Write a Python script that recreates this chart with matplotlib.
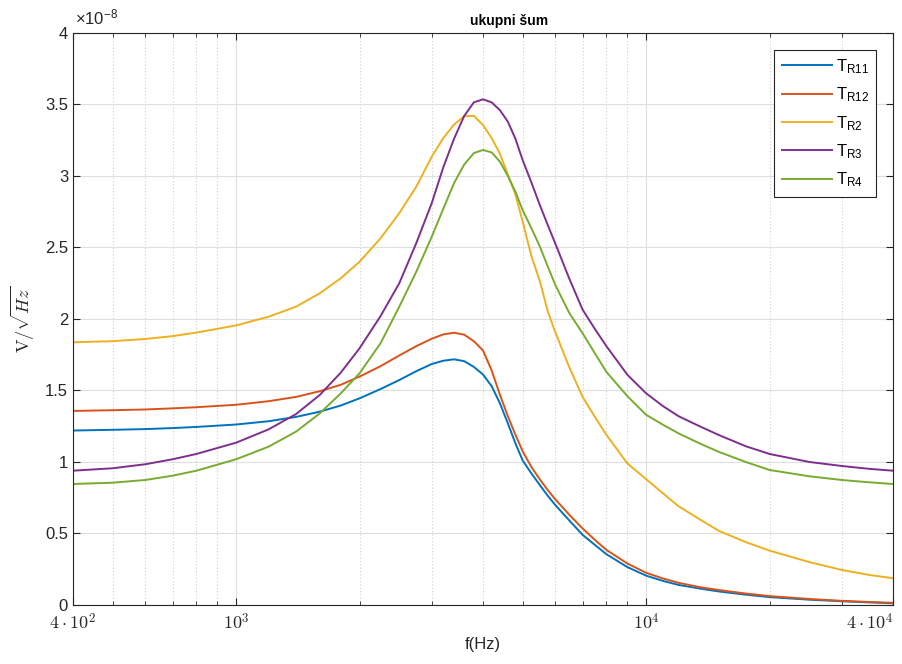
# ukupni sum - total noise vs frequency

import matplotlib
matplotlib.use('Agg')
import matplotlib.pyplot as plt
import matplotlib.transforms as mtransforms
from matplotlib.ticker import FixedLocator, FuncFormatter, NullFormatter

plt.rcParams['font.family'] = ['Liberation Sans', 'DejaVu Sans']
plt.rcParams['mathtext.fontset'] = 'custom'
plt.rcParams['mathtext.rm'] = 'Liberation Sans'
plt.rcParams['mathtext.it'] = 'Liberation Sans:italic'
plt.rcParams['mathtext.bf'] = 'Liberation Sans:bold'

# frequency (Hz)
freq = [400, 500, 600, 700, 800, 1000, 1200, 1400, 1600, 1800, 2000, 2250,
        2500, 2750, 3000, 3200, 3400, 3600, 3800, 4000, 4200, 4400, 4600,
        4800, 5000, 5250, 5500, 5750, 6000, 6500, 7000, 7500, 8000, 9000,
        10000, 11000, 12000, 13500, 15000, 17500, 20000, 25000, 30000,
        35000, 40000]

# noise in units of 1e-8 V/sqrt(Hz)
t_r11 = [1.220, 1.225, 1.230, 1.237, 1.245, 1.262, 1.285, 1.315, 1.352, 1.395,
         1.445, 1.510, 1.573, 1.635, 1.685, 1.708, 1.718, 1.705, 1.665, 1.612,
         1.530, 1.410, 1.270, 1.130, 1.010, 0.920, 0.840, 0.765, 0.700, 0.590,
         0.490, 0.420, 0.355, 0.265, 0.205, 0.168, 0.140, 0.115, 0.095, 0.072,
         0.055, 0.037, 0.026, 0.018, 0.012]
t_r12 = [1.357, 1.362, 1.367, 1.375, 1.383, 1.400, 1.425, 1.455, 1.495, 1.540,
         1.597, 1.670, 1.745, 1.810, 1.862, 1.892, 1.904, 1.890, 1.845, 1.780,
         1.640, 1.470, 1.320, 1.190, 1.075, 0.965, 0.880, 0.805, 0.740, 0.630,
         0.535, 0.455, 0.385, 0.290, 0.225, 0.185, 0.155, 0.125, 0.105, 0.080,
         0.062, 0.042, 0.029, 0.021, 0.015]
t_r2 = [1.837, 1.845, 1.860, 1.880, 1.905, 1.955, 2.016, 2.086, 2.180, 2.285,
        2.400, 2.564, 2.740, 2.925, 3.135, 3.265, 3.360, 3.418, 3.420, 3.357,
        3.265, 3.155, 3.010, 2.870, 2.680, 2.440, 2.270, 2.057, 1.910, 1.660,
        1.455, 1.315, 1.190, 0.990, 0.880, 0.780, 0.690, 0.600, 0.520, 0.440,
        0.380, 0.300, 0.245, 0.210, 0.187]
t_r3 = [0.939, 0.956, 0.984, 1.019, 1.056, 1.135, 1.228, 1.335, 1.469, 1.625,
        1.795, 2.020, 2.250, 2.530, 2.810, 3.060, 3.260, 3.420, 3.515, 3.536,
        3.515, 3.460, 3.380, 3.260, 3.110, 2.955, 2.800, 2.660, 2.530, 2.280,
        2.065, 1.930, 1.810, 1.610, 1.480, 1.390, 1.320, 1.250, 1.190, 1.110,
        1.056, 1.000, 0.972, 0.952, 0.939]
t_r4 = [0.846, 0.855, 0.874, 0.904, 0.939, 1.019, 1.107, 1.212, 1.340, 1.480,
        1.620, 1.830, 2.086, 2.330, 2.575, 2.770, 2.950, 3.080, 3.160, 3.182,
        3.165, 3.100, 3.000, 2.890, 2.760, 2.635, 2.510, 2.370, 2.240, 2.040,
        1.900, 1.760, 1.630, 1.460, 1.330, 1.260, 1.200, 1.130, 1.072, 1.000,
        0.944, 0.900, 0.874, 0.858, 0.846]

series = [t_r11, t_r12, t_r2, t_r3, t_r4]
labels = ['T$_{\\mathregular{R11}}$', 'T$_{\\mathregular{R12}}$',
          'T$_{\\mathregular{R2}}$', 'T$_{\\mathregular{R3}}$',
          'T$_{\\mathregular{R4}}$']
colors = ['#0072BD', '#D95319', '#EDB120', '#7E2F8E', '#77AC30']

x_major = [400, 1000, 10000, 40000]
x_major_labels = [r'$4\cdot10^{2}$', r'$10^{3}$', r'$10^{4}$', r'$4\cdot10^{4}$']
x_minor = [500, 600, 700, 800, 900, 2000, 3000, 4000, 5000, 6000, 7000,
           8000, 9000, 20000, 30000]
y_ticks = [0, 0.5, 1, 1.5, 2, 2.5, 3, 3.5, 4]

axcol = '#262626'

fig = plt.figure(figsize=(9.03, 6.64), dpi=100)
ax = fig.add_axes([0.0808, 0.0889, 0.9081, 0.8614])

for y, lab, c in zip(series, labels, colors):
    ax.plot(freq, y, color=c, lw=1.4, label=lab)

ax.set_xscale('log')
ax.set_xlim(400, 40000)
ax.set_ylim(0, 4)

ax.xaxis.set_major_locator(FixedLocator(x_major))
ax.xaxis.set_minor_locator(FixedLocator(x_minor))
ax.xaxis.set_minor_formatter(NullFormatter())
ax.set_xticklabels(x_major_labels, math_fontfamily='cm', fontsize=13)
ax.set_yticks(y_ticks)
ax.yaxis.set_major_formatter(FuncFormatter(lambda v, p: '%g' % v))

# last label pushed against the right figure edge, like MATLAB does
last = ax.get_xticklabels()[-1]
last.set_horizontalalignment('right')
last.set_transform(last.get_transform() +
                   mtransforms.ScaledTranslation(0.095, 0, fig.dpi_scale_trans))

ax.grid(which='major', color='#dedede', lw=0.8)
ax.grid(which='minor', axis='x', color='#cfcfcf', ls=(0, (1, 2)), lw=0.8)
ax.set_axisbelow(True)

ax.tick_params(which='both', direction='in', top=True, right=True,
               colors=axcol, labelcolor=axcol)
ax.tick_params(which='major', length=5, width=0.8)
ax.tick_params(which='minor', length=3, width=0.6)
ax.tick_params(axis='y', labelsize=12)
ax.tick_params(axis='x', pad=6)
for s in ax.spines.values():
    s.set_color(axcol)
    s.set_linewidth(0.8)

ax.set_title('ukupni šum', fontsize=10, fontweight='bold', color='black',
             pad=6, x=0.532)
ax.set_xlabel('f(Hz)', fontsize=12, color=axcol, labelpad=2)
ax.set_ylabel(r'$\mathrm{V}/\sqrt{Hz}$', math_fontfamily='cm', fontsize=13,
              color=axcol, labelpad=6)

fig.text(0.083, 0.958, '×10$^{\\mathregular{-8}}$', fontsize=12, color=axcol,
         ha='left', va='bottom')

leg = ax.legend(loc='upper right', fontsize=12, frameon=True, fancybox=False,
                edgecolor=axcol, framealpha=1, handlelength=3.0,
                handletextpad=0.25, labelspacing=0.58, borderaxespad=1.0,
                borderpad=0.45)
leg.get_frame().set_linewidth(0.8)

fig.savefig('out.png', dpi=100)
